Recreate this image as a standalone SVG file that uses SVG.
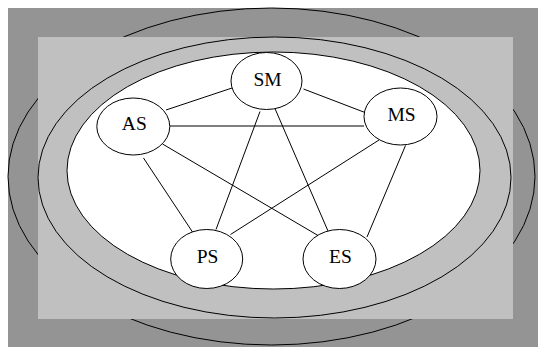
<svg xmlns="http://www.w3.org/2000/svg" width="538" height="347" viewBox="0 0 538 347">
  <style>
    .ring { fill: none; stroke: #000; stroke-width: 1; }
    .node ellipse { fill: #fff; stroke: #000; stroke-width: 1; }
    .node text { font-family: "Liberation Serif", "Times New Roman", serif; font-size: 19.5px; text-anchor: middle; fill: #000; }
    #edges line { stroke: #000; stroke-width: 1; }
  </style>

  <!-- outer cluster background -->
  <rect x="0" y="0" width="538" height="347" fill="#fff"/>
  <rect x="8" y="8" width="530" height="339" fill="#949494"/>
  <ellipse class="ring" cx="271.5" cy="176.5" rx="263.5" ry="168.5"/>

  <!-- inner cluster background -->
  <rect x="38" y="37" width="475" height="282" fill="#c0c0c0"/>
  <ellipse cx="274.5" cy="177.5" rx="236.5" ry="140.5" fill="#c0c0c0" stroke="#000" stroke-width="1"/>
  <ellipse cx="273.5" cy="170.5" rx="206.5" ry="118.5" fill="#fff" stroke="#000" stroke-width="1"/>

  <g id="edges">
    <line x1="166" y1="110" x2="232" y2="88"/>
    <line x1="303.5" y1="89" x2="365" y2="112.5"/>
    <line x1="170" y1="126" x2="364" y2="126"/>
    <line x1="260" y1="111.5" x2="216" y2="229.5"/>
    <line x1="274.5" y1="107.5" x2="328" y2="231"/>
    <line x1="143.5" y1="158" x2="192.5" y2="232"/>
    <line x1="162.5" y1="144" x2="318" y2="235.5"/>
    <line x1="379" y1="140" x2="230.5" y2="234.5"/>
    <line x1="405.5" y1="145.5" x2="367" y2="237"/>
  </g>

  <g id="node-SM" class="node">
    <ellipse cx="266.5" cy="81" rx="35.5" ry="28.5"/>
    <text x="267.5" y="86">SM</text>
  </g>
  <g id="node-AS" class="node">
    <ellipse cx="133.3" cy="126.5" rx="36.5" ry="28.5"/>
    <text x="134.3" y="130">AS</text>
  </g>
  <g id="node-MS" class="node">
    <ellipse cx="400.5" cy="116.5" rx="36.5" ry="28.5"/>
    <text x="401.5" y="120.5">MS</text>
  </g>
  <g id="node-PS" class="node">
    <ellipse cx="206.7" cy="259" rx="36" ry="29.5"/>
    <text x="207.5" y="262.5">PS</text>
  </g>
  <g id="node-ES" class="node">
    <ellipse cx="339.5" cy="259" rx="36.5" ry="29.5"/>
    <text x="340.5" y="262.5">ES</text>
  </g>
</svg>
